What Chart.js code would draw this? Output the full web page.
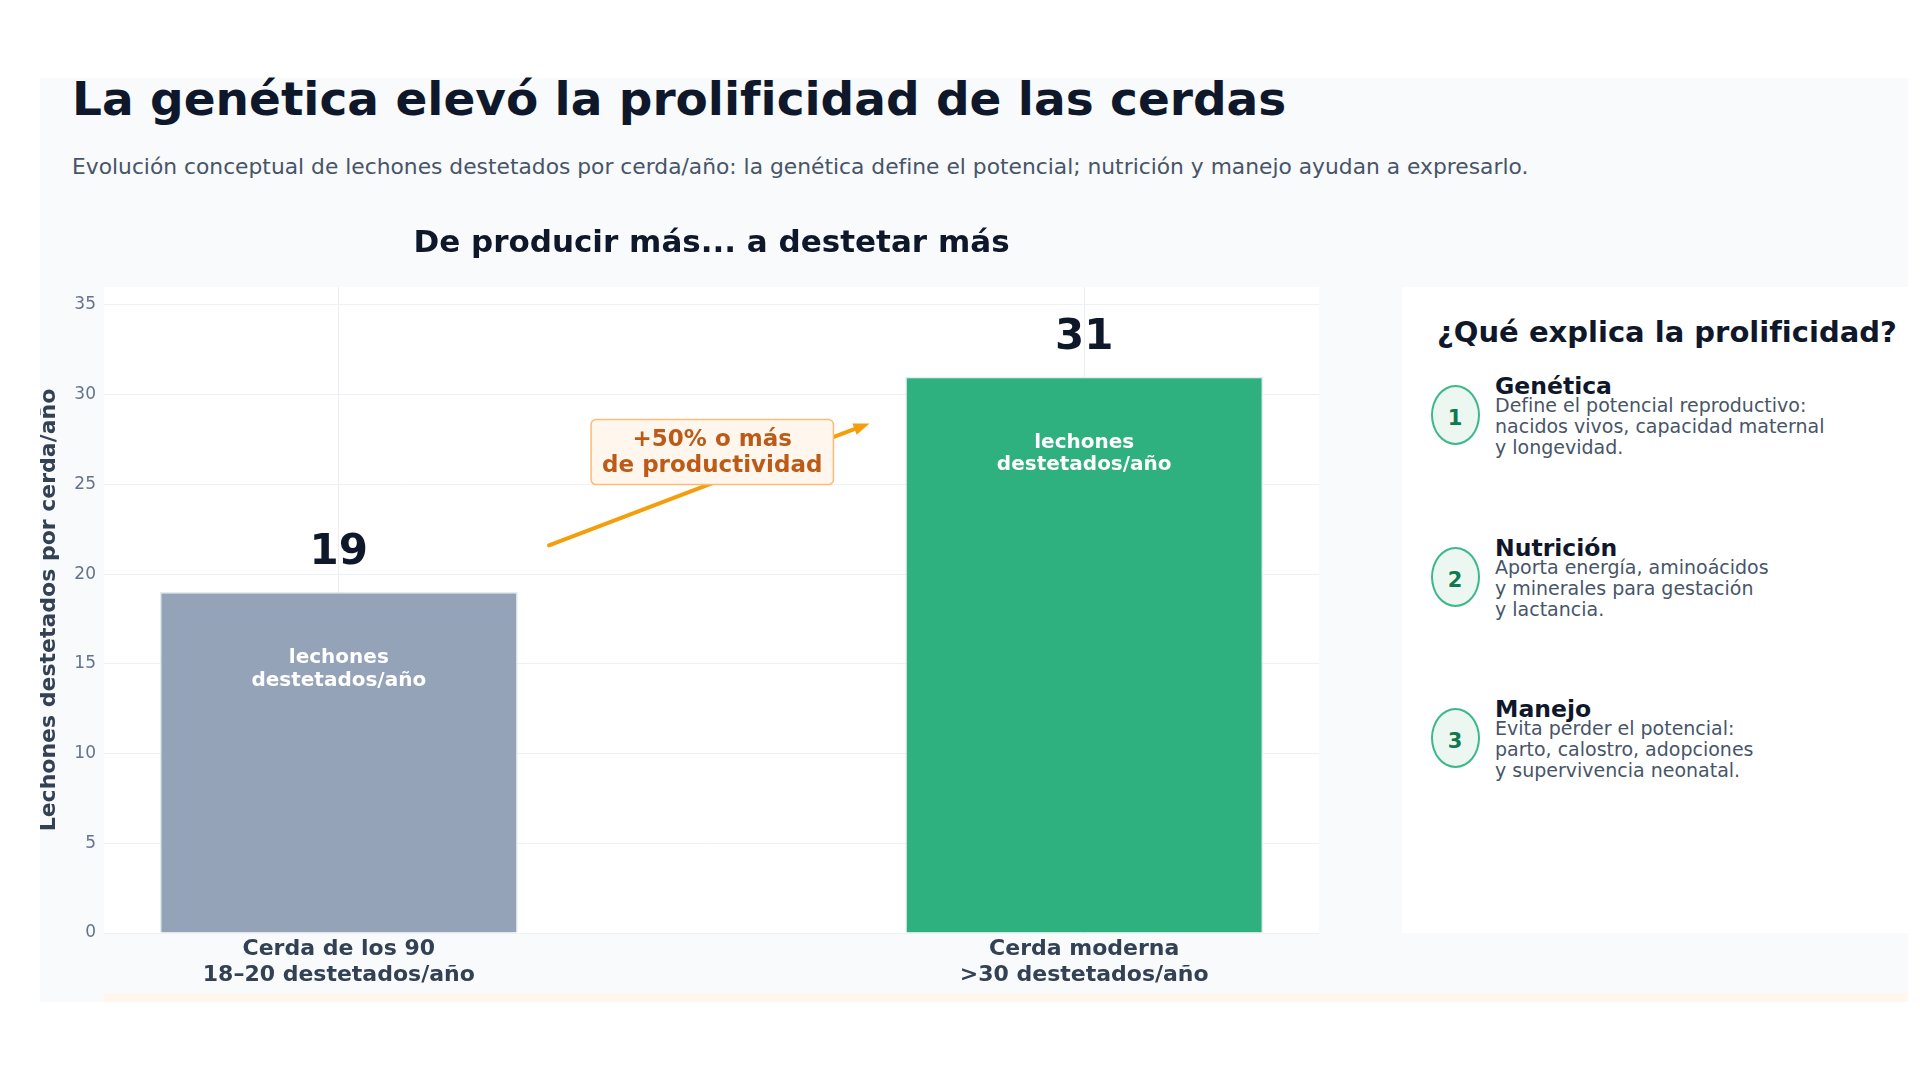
<!DOCTYPE html>
<html lang="es">
<head>
<meta charset="utf-8">
<title>La genética elevó la prolificidad de las cerdas</title>
<script src="https://cdn.jsdelivr.net/npm/chart.js@4.4.1/dist/chart.umd.min.js"></script>
<style>
  html, body { margin: 0; padding: 0; background: #ffffff; }
  body { width: 1920px; height: 1080px; position: relative; overflow: hidden; font-family: "DejaVu Sans", sans-serif; }
  #card { position: absolute; left: 40px; top: 78px; width: 1868px; height: 924px; background: #f8fafc; }
  #strip { position: absolute; left: 104px; top: 993px; width: 1804px; height: 9px; background: #fff7ed; }
  h1 { position: absolute; left: 72px; top: 75px; margin: 0; font-size: 47px; line-height: 1; font-weight: bold; color: #0f172a; white-space: nowrap; }
  .sub { position: absolute; left: 72px; top: 156px; margin: 0; font-size: 21.8px; line-height: 1; color: #475569; white-space: nowrap; }
  #chart { position: absolute; left: 40px; top: 200px; }
  #panel { position: absolute; left: 1402px; top: 287px; width: 506px; height: 646px; background: #ffffff; }
  #panel h2 { position: absolute; left: 35px; top: 31px; margin: 0; font-size: 29px; line-height: 1; font-weight: bold; color: #0f172a; white-space: nowrap; }
  .dot { position: absolute; width: 49px; height: 60px; box-sizing: border-box; border: 2px solid #3cb88a; border-radius: 50%; background: #edf7f2;
         color: #0f7a4e; font-weight: bold; font-size: 21px; display: flex; align-items: center; justify-content: center; padding-top: 6px; }
  .head { position: absolute; left: 93px; margin: 0; font-size: 23.5px; line-height: 1; font-weight: bold; color: #0f172a; white-space: nowrap; }
  .desc { position: absolute; left: 93px; margin: 0; font-size: 19px; line-height: 21px; color: #475569; white-space: nowrap; }
</style>
</head>
<body>
<div id="card"></div>
<div id="strip"></div>
<h1>La genética elevó la prolificidad de las cerdas</h1>
<p class="sub">Evolución conceptual de lechones destetados por cerda/año: la genética define el potencial; nutrición y manejo ayudan a expresarlo.</p>
<canvas id="chart" width="1343" height="800"></canvas>
<div id="panel"><h2>¿Qué explica la prolificidad?</h2></div>

<script>
// chart data
const chartTitle = 'De producir más... a destetar más';
const categories = [
    ['Cerda de los 90', '18–20 destetados/año'],
    ['Cerda moderna', '>30 destetados/año']
];
const weanedPerYear = [19, 31];
const barColors = ['#94a3b8', '#2fb17f'];
const barInnerLabel = ['lechones', 'destetados/año'];
const yAxisTitle = 'Lechones destetados por cerda/año';
const yMax = 36;
const yStep = 5;

// annotation: arrow between bars plus its text box (data coordinates)
const gainLabel = ['+50% o más', 'de productividad'];
const gainArrow = { from: { x: 0.282, y: 21.6 }, to: { x: 0.712, y: 28.4 }, box: { x: 0.501, y: 26.8 } };

// side panel
const factorNames = ['Genética', 'Nutrición', 'Manejo'];
const factorDescs = [
    ['Define el potencial reproductivo:', 'nacidos vivos, capacidad maternal', 'y longevidad.'],
    ['Aporta energía, aminoácidos', 'y minerales para gestación', 'y lactancia.'],
    ['Evita perder el potencial:', 'parto, calostro, adopciones', 'y supervivencia neonatal.']
];

const FONT = '"DejaVu Sans"';
Chart.defaults.font.family = FONT;

const overlay = {
    id: 'overlay',
    beforeDraw(chart) {
        const { ctx, chartArea: a } = chart;
        ctx.save();
        ctx.fillStyle = '#ffffff';
        ctx.fillRect(a.left, a.top, a.right - a.left, a.bottom - a.top);
        ctx.restore();
    },
    afterDatasetsDraw(chart) {
        const { ctx, chartArea: a, scales: { x, y } } = chart;
        ctx.save();
        ctx.textAlign = 'center';
        ctx.textBaseline = 'alphabetic';

        // chart title, centred over the plot area
        ctx.font = `bold 31px ${FONT}`;
        ctx.fillStyle = '#0f172a';
        ctx.fillText(chartTitle, (a.left + a.right) / 2, a.top - 35);

        // value above bar + white caption inside
        chart.getDatasetMeta(0).data.forEach((bar, i) => {
            ctx.font = `bold 42px ${FONT}`;
            ctx.fillStyle = '#0f172a';
            ctx.fillText(String(weanedPerYear[i]), bar.x, bar.y - 28);
            ctx.font = `bold 20px ${FONT}`;
            ctx.fillStyle = '#ffffff';
            barInnerLabel.forEach((line, k) => ctx.fillText(line, bar.x, bar.y + 71 + k * 22.5));
        });

        // arrow
        const x0 = x.getPixelForValue(gainArrow.from.x), y0 = y.getPixelForValue(gainArrow.from.y);
        const x1 = x.getPixelForValue(gainArrow.to.x), y1 = y.getPixelForValue(gainArrow.to.y);
        const ang = Math.atan2(y1 - y0, x1 - x0);
        const head = 16;
        ctx.strokeStyle = '#f59e0b';
        ctx.lineWidth = 4;
        ctx.lineCap = 'round';
        ctx.beginPath();
        ctx.moveTo(x0, y0);
        ctx.lineTo(x1 - Math.cos(ang) * head * 0.8, y1 - Math.sin(ang) * head * 0.8);
        ctx.stroke();
        ctx.fillStyle = '#f59e0b';
        ctx.beginPath();
        ctx.moveTo(x1, y1);
        ctx.lineTo(x1 - head * Math.cos(ang) + 6 * Math.sin(ang), y1 - head * Math.sin(ang) - 6 * Math.cos(ang));
        ctx.lineTo(x1 - head * Math.cos(ang) - 6 * Math.sin(ang), y1 - head * Math.sin(ang) + 6 * Math.cos(ang));
        ctx.closePath();
        ctx.fill();

        // text box
        const bx = x.getPixelForValue(gainArrow.box.x), by = y.getPixelForValue(gainArrow.box.y);
        ctx.font = `bold 23px ${FONT}`;
        const tw = Math.max(...gainLabel.map(t => ctx.measureText(t).width));
        const bw = tw + 22, bh = 65;
        ctx.beginPath();
        ctx.roundRect(bx - bw / 2, by - bh / 2, bw, bh, 5);
        ctx.fillStyle = '#fff7ed';
        ctx.fill();
        ctx.lineWidth = 1.5;
        ctx.strokeStyle = '#fdba74';
        ctx.stroke();
        ctx.fillStyle = '#bd5a17';
        gainLabel.forEach((line, k) => ctx.fillText(line, bx, by - 6 + k * 26));
        ctx.restore();
    }
};

new Chart(document.getElementById('chart'), {
    type: 'bar',
    data: {
        datasets: [{
            data: weanedPerYear.map((v, i) => ({ x: i, y: v })),
            backgroundColor: barColors,
            borderColor: 'rgba(226,232,240,0.9)',
            borderWidth: 1.5,
            barPercentage: 0.6,
            categoryPercentage: 0.8
        }]
    },
    options: {
        responsive: false,
        animation: false,
        layout: { padding: { top: 87, right: 64 } },
        plugins: { legend: { display: false }, tooltip: { enabled: false } },
        scales: {
            x: {
                type: 'linear',
                min: -0.315,
                max: 1.315,
                offset: false,
                afterBuildTicks: s => { s.ticks = categories.map((_, i) => ({ value: i })); },
                afterFit: s => { s.height = 67; },
                grid: { color: '#e9eef4', drawTicks: false, offset: false },
                border: { display: false },
                ticks: {
                    autoSkip: false,
                    maxRotation: 0,
                    padding: 4,
                    color: '#334155',
                    font: { size: 22, weight: 'bold', lineHeight: 1.15 },
                    callback: v => categories[v] || ''
                }
            },
            y: {
                min: 0,
                max: yMax,
                afterFit: s => { s.width = 64; },
                grid: { color: '#edf1f6', drawTicks: false },
                border: { display: false },
                ticks: { stepSize: yStep, includeBounds: false, padding: 8, color: '#64748b', font: { size: 17 } },
                title: {
                    display: true,
                    text: yAxisTitle,
                    color: '#334155',
                    padding: 0,
                    font: { size: 22, weight: 'bold', lineHeight: 0.85 }
                }
            }
        }
    },
    plugins: [overlay]
});

// side panel items
const panel = document.getElementById('panel');
factorNames.forEach((name, i) => {
    const cy = 128 + i * 161.5;
    const dot = document.createElement('div');
    dot.className = 'dot';
    dot.style.left = '28.5px';
    dot.style.top = (cy - 30) + 'px';
    dot.textContent = String(i + 1);
    panel.appendChild(dot);

    const h = document.createElement('div');
    h.className = 'head';
    h.style.top = (cy - 40) + 'px';
    h.textContent = name;
    panel.appendChild(h);

    const d = document.createElement('div');
    d.className = 'desc';
    d.style.top = (cy - 20) + 'px';
    d.innerHTML = factorDescs[i].join('<br>');
    panel.appendChild(d);
});
</script>
</body>
</html>
